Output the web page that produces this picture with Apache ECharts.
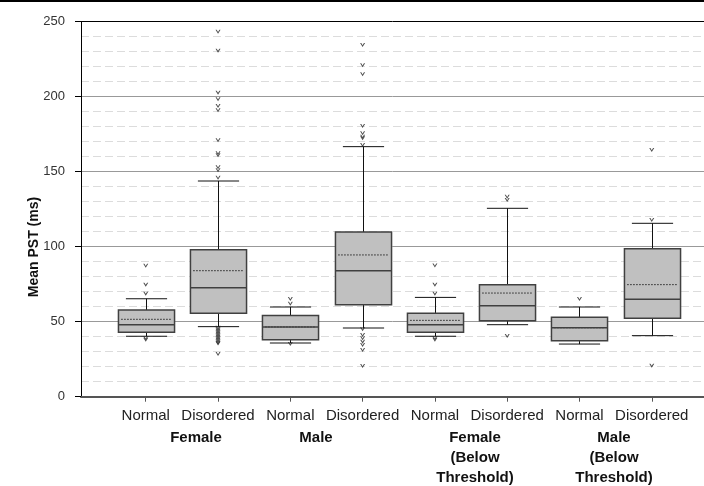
<!DOCTYPE html>
<html>
<head>
<meta charset="utf-8">
<script src="https://cdn.jsdelivr.net/npm/echarts@6/dist/echarts.min.js"></script>
<style>
  html, body { margin: 0; padding: 0; background: #fff; }
  #chart { width: 704px; height: 486px; }
</style>
</head>
<body>
<div id="chart"></div>
<script>
const chart = echarts.init(document.getElementById("chart"));

// box summary per category (ms)
const categories = ["Normal", "Disordered", "Normal", "Disordered", "Normal", "Disordered", "Normal", "Disordered"];
const groupLabels = ["Female", "Male", "Female\n(Below\nThreshold)", "Male\n(Below\nThreshold)"];
const yTicks = [0, 50, 100, 150, 200, 250];

const whiskerLow = [40.3, 46.7, 35.8, 45.8, 40.3, 48, 35.1, 40.7];
const q1 = [42.9, 55.6, 38, 61.3, 42.9, 50.7, 37.3, 52.3];
const median = [48, 72.7, 46.5, 84, 48, 60.7, 46, 64.9];
const q3 = [57.8, 98, 54.2, 109.8, 55.6, 74.7, 52.9, 98.7];
const whiskerHigh = [65.3, 143.8, 59.8, 166.7, 66.2, 125.6, 59.8, 115.6];
const mean = [51.6, 84, 46.5, 94.5, 50.9, 69.1, 46, 74.7];

const outliers = [
  [87.3, 74.7, 68.7, 38.9, 38],
  [243.3, 230.7, 202.7, 198.3, 193.8, 191, 171, 162.3, 160.9, 152.9, 151, 146,
   46, 45, 44, 43, 42, 41, 40, 39, 38, 37, 36, 35.5, 28.5],
  [65.1, 62, 35.1],
  [234.5, 221, 215, 180.5, 175.6, 173.3, 172.3, 167.8,
   44.9, 41.1, 38.9, 36.7, 34.5, 31.1, 20.5],
  [87.5, 74.7, 68.7, 38.9, 38],
  [133.3, 131.1, 40.5],
  [65.1],
  [164.5, 117.8, 20.7]
];

const FONT = "'Liberation Sans', Arial, sans-serif";

const boxData = categories.map(function (c, i) {
  return [i, whiskerLow[i], q1[i], median[i], q3[i], whiskerHigh[i], mean[i]];
});

const outlierData = [];
outliers.forEach(function (list, i) {
  list.forEach(function (v) { outlierData.push([i, v]); });
});

function renderBox(params, api) {
  const x = api.value(0);
  const bw = api.size([1, 0])[0];
  const boxW = bw * 0.776;
  const capW = bw * 0.57;
  const meanW = bw * 0.70;
  const pLow = api.coord([x, api.value(1)]);
  const pQ1 = api.coord([x, api.value(2)]);
  const pMed = api.coord([x, api.value(3)]);
  const pQ3 = api.coord([x, api.value(4)]);
  const pHigh = api.coord([x, api.value(5)]);
  const pMean = api.coord([x, api.value(6)]);
  const cx = Math.round(pQ1[0]) + 0.5;
  const lineStyle = { stroke: "#111", lineWidth: 1 };
  return {
    type: "group",
    children: [
      { type: "line", shape: { x1: cx, y1: pHigh[1], x2: cx, y2: pQ3[1] }, style: lineStyle },
      { type: "line", shape: { x1: cx, y1: pQ1[1], x2: cx, y2: pLow[1] }, style: lineStyle },
      { type: "line", shape: { x1: cx - capW / 2, y1: pHigh[1], x2: cx + capW / 2, y2: pHigh[1] }, style: lineStyle },
      { type: "line", shape: { x1: cx - capW / 2, y1: pLow[1], x2: cx + capW / 2, y2: pLow[1] }, style: lineStyle },
      {
        type: "rect",
        shape: { x: cx - boxW / 2, y: pQ3[1], width: boxW, height: pQ1[1] - pQ3[1] },
        style: { fill: "#c0c0c0", stroke: "#404040", lineWidth: 1.5 }
      },
      {
        type: "line",
        shape: { x1: cx - meanW / 2, y1: pMean[1], x2: cx + meanW / 2, y2: pMean[1] },
        style: { stroke: "#222", lineWidth: 1, lineDash: [1.5, 1.5] }
      },
      {
        type: "line",
        shape: { x1: cx - boxW / 2, y1: pMed[1], x2: cx + boxW / 2, y2: pMed[1] },
        style: { stroke: "#404040", lineWidth: 1.5 }
      }
    ]
  };
}

const groupX = [196, 316, 475, 614];

const option = {
  animation: false,
  backgroundColor: "#fff",
  grid: [
    { left: 81, right: -12, top: 21.7, bottom: 89.3 },
    { left: 109.6, right: 16.1, top: 21.7, bottom: 89.3 }
  ],
  xAxis: [
    {
      gridIndex: 0, type: "value", min: 0, max: 1,
      axisLine: { show: true, lineStyle: { color: "#555", width: 2 } },
      axisTick: { show: false }, axisLabel: { show: false }, splitLine: { show: false }
    },
    {
      gridIndex: 1, type: "category", data: categories,
      axisLine: { show: false },
      axisTick: { show: true, alignWithLabel: true, length: 5, lineStyle: { color: "#555" } },
      axisLabel: { color: "#222", fontFamily: FONT, fontSize: 15, margin: 12, interval: 0 },
      splitLine: { show: false }
    }
  ],
  yAxis: [
    {
      gridIndex: 0, type: "value", min: 0, max: 250, interval: 50,
      axisLine: { show: true, lineStyle: { color: "#000", width: 1 } },
      axisTick: { show: true, length: 6, lineStyle: { color: "#000" } },
      axisLabel: {
        color: "#333", fontFamily: FONT, fontSize: 13, margin: 16,
        customValues: yTicks
      },
      splitLine: { show: true, lineStyle: { color: ["#999", "#999", "#999", "#999", "#999", "#000"], width: 1 } },
      minorTick: { show: false, splitNumber: 5 },
      minorSplitLine: { show: true, lineStyle: { color: "#dcdcdc", type: [8, 4], width: 1 } }
    },
    {
      gridIndex: 1, type: "value", min: 0, max: 250, interval: 50,
      axisLine: { show: false }, axisTick: { show: false },
      axisLabel: { show: false }, splitLine: { show: false }
    }
  ],
  series: [
    {
      type: "custom",
      xAxisIndex: 1, yAxisIndex: 1,
      renderItem: renderBox,
      encode: { x: 0, y: [1, 2, 3, 4, 5, 6] },
      data: boxData,
      z: 3
    },
    {
      type: "scatter",
      xAxisIndex: 1, yAxisIndex: 1,
      symbol: "path://M0,0L3,4L6,0L4.6,0L3,2.2L1.4,0Z",
      symbolSize: [5, 4],
      itemStyle: { color: "#222" },
      data: outlierData,
      z: 4
    }
  ],
  graphic: [
    { type: "rect", left: 0, top: 0, shape: { width: 704, height: 2 }, style: { fill: "#000" } },
    {
      type: "text", x: 34, y: 247, rotation: Math.PI / 2,
      style: {
        text: "Mean PST (ms)", fill: "#111", font: "bold 14px " + FONT,
        align: "center", verticalAlign: "middle"
      }
    }
  ].concat(groupLabels.map(function (t, i) {
    return {
      type: "text", x: groupX[i], y: 428,
      style: {
        text: t, fill: "#111", font: "bold 15px " + FONT,
        align: "center", verticalAlign: "top", lineHeight: 20
      }
    };
  }))
};

chart.setOption(option);

window.addEventListener("resize", function () {
  chart.resize();
});
</script>
</body>
</html>
